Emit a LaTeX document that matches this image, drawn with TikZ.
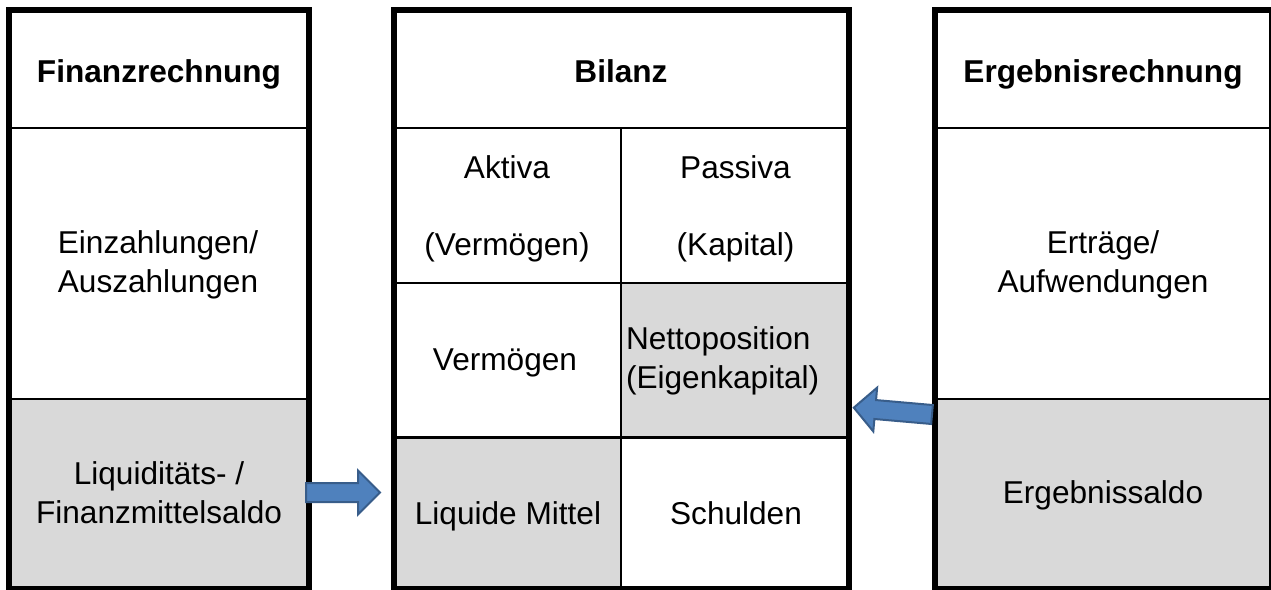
\documentclass[tikz,border=0pt]{standalone}
\usepackage{fontspec}
\setmainfont{Liberation Sans}
\definecolor{cellgray}{HTML}{D9D9D9}
\definecolor{arrowfill}{HTML}{4F81BD}
\definecolor{arrowline}{HTML}{385D8A}
\tikzset{
  cell/.style={rectangle, draw=black, line width=2.5pt, inner sep=0pt, outer sep=0pt, anchor=north west},
  grey/.style={fill=cellgray},
  outerframe/.style={draw=black, line width=6pt},
  lbl/.style={inner sep=0pt, outer sep=0pt, anchor=base, align=center, font=\fontsize{31.6}{38.5}\selectfont},
  lblleft/.style={lbl, anchor=base west, align=left},
  hdr/.style={lbl, font=\fontsize{31.6}{38.5}\selectfont\bfseries},
  blockarrow/.style={draw=arrowline, fill=arrowfill, line width=2pt, line join=miter}
}
\begin{document}
\begin{tikzpicture}[x=1pt, y=-1pt]
\useasboundingbox (0,0) rectangle (1271,589);
\clip (0,0) rectangle (1271,589);
\fill[white] (0,0) rectangle (1271,589);

% left column: Finanzrechnung
\node[cell, minimum width=300pt, minimum height=118pt] (f1) at (9,10) {};
\node[cell, minimum width=300pt, minimum height=271pt] (f2) at (9,128) {};
\node[cell, grey, minimum width=300pt, minimum height=190pt] (f3) at (9,399) {};

% middle column: Bilanz
\node[cell, minimum width=454.5pt, minimum height=118pt] (b0) at (394,10) {};
\node[cell, minimum width=227pt, minimum height=155pt] (b1) at (394,128) {};
\node[cell, minimum width=227.5pt, minimum height=155pt] (b2) at (621,128) {};
\node[cell, minimum width=227pt, minimum height=154.5pt] (b3) at (394,283) {};
\node[cell, grey, minimum width=227.5pt, minimum height=154.5pt] (b4) at (621,283) {};
\node[cell, grey, minimum width=227pt, minimum height=151.5pt] (b5) at (394,437.5) {};
\node[cell, minimum width=227.5pt, minimum height=151.5pt] (b6) at (621,437.5) {};

% right column: Ergebnisrechnung
\node[cell, minimum width=337pt, minimum height=118pt] (e1) at (935,10) {};
\node[cell, minimum width=337pt, minimum height=271pt] (e2) at (935,128) {};
\node[cell, grey, minimum width=337pt, minimum height=190pt] (e3) at (935,399) {};

% outer frames
\draw[outerframe] (f1.north west) rectangle (f3.south east);
\draw[outerframe] (b0.north west) rectangle (b6.south east);
\draw[outerframe] (e1.north west) rectangle (e3.south east);

% texts (multi-line nodes: base = baseline of last line)
\node[hdr] (tf1) at (159,82) {Finanzrechnung};
\node[lbl] (tf2) at (158,292) {Einzahlungen/\\Auszahlungen};
\node[lbl] (tf3) at (159,523) {Liquiditäts- /\\Finanzmittelsaldo};

\node[hdr] (tb0) at (621,82) {Bilanz};
\node[lbl] (tb1) at (507,255) {Aktiva\\[0pt]\mbox{}\\(Vermögen)};
\node[lbl] (tb2) at (735.5,255) {Passiva\\[0pt]\mbox{}\\(Kapital)};
\node[lbl] (tb3) at (505,370) {Vermögen};
\node[lblleft] (tb4) at (626,388) {Nettoposition\\(Eigenkapital)};
\node[lbl] (tb5) at (508,524) {Liquide Mittel};
\node[lbl] (tb6) at (736,524) {Schulden};

\node[hdr] (te1) at (1103,82) {Ergebnisrechnung};
\node[lbl] (te2) at (1103,292) {Erträge/\\Aufwendungen};
\node[lbl] (te3) at (1103,503) {Ergebnissaldo};

% block arrows
\coordinate (a1s) at (306,492.5);
\coordinate (a2s) at (932,414.5);
\begin{scope}[shift={(a1s)}]
  \draw[blockarrow] (0,-9.5) -- (52,-9.5) -- (52,-22) -- (74,0) -- (52,22) -- (52,9.5) -- (0,9.5) -- cycle;
\end{scope}
\begin{scope}[shift={(a2s)}, rotate=175]
  \draw[blockarrow] (0,-9.5) -- (57,-9.5) -- (57,-22) -- (78.5,0) -- (57,22) -- (57,9.5) -- (0,9.5) -- cycle;
\end{scope}
\end{tikzpicture}
\end{document}
